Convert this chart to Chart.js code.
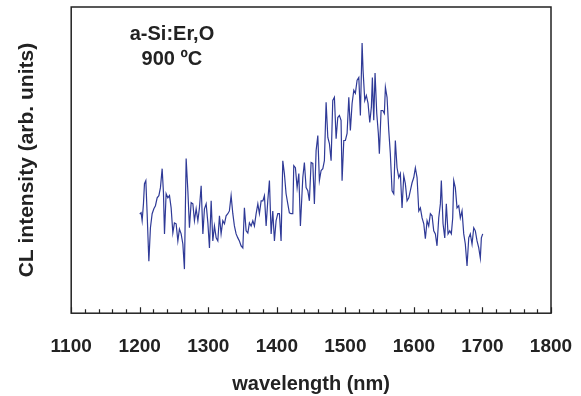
<!DOCTYPE html>
<html>
<head>
<meta charset="utf-8">
<script src="https://cdn.jsdelivr.net/npm/chart.js@4/dist/chart.umd.min.js"></script>
<style>
  html, body { margin: 0; padding: 0; background: #fff; }
  #wrap { width: 581px; height: 396px; }
</style>
</head>
<body>
<div id="wrap"><canvas id="myChart" width="581" height="396"></canvas></div>
<script>
// CL spectrum, wavelength in nm
const wavelength = [
  1200, 1202, 1203.5, 1205.4, 1206.9, 1208.9, 1210.8, 1213.3, 1215.6, 1218.1,
  1220.6, 1222.9, 1225.4, 1227.9, 1230.2, 1232.7, 1234.6, 1236.1, 1238.5, 1241,
  1243.4, 1245.8, 1248.3, 1250.6, 1253.1, 1255.6, 1257.9, 1260.4, 1262.9, 1265.2,
  1267.7, 1270.2, 1272.5, 1275, 1277.5, 1279.8, 1282.3, 1284.8, 1287.1, 1289.6,
  1292.1, 1294.4, 1296.9, 1299.4, 1301.7, 1304.2, 1306.6, 1309, 1311.5, 1313.9,
  1316.3, 1318.7, 1321.2, 1323.6, 1326, 1328.5, 1330.8, 1333.3, 1335.8, 1338.1,
  1340.6, 1343.1, 1345.4, 1347.9, 1350.4, 1352.7, 1355.2, 1357.7, 1360, 1362.5,
  1365, 1367.3, 1369.8, 1372.3, 1374.6, 1377.1, 1379.6, 1381.9, 1384.4, 1386.8,
  1389.2, 1391.7, 1394.1, 1396.5, 1398.9, 1401.4, 1403.8, 1406.2, 1408.7, 1411,
  1413.5, 1416, 1418.3, 1420.8, 1423.3, 1424.7, 1427.1, 1429.6, 1432.1, 1434.4,
  1437.9, 1440.2, 1442.7, 1445.2, 1447.5, 1450, 1452.5, 1454.8, 1457.3, 1459.8,
  1462.1, 1464.6, 1467.1, 1469.4, 1471.9, 1474.4, 1476.7, 1479.2, 1481.6, 1484,
  1486.5, 1488.9, 1491.3, 1493.7, 1495.2, 1497.7, 1500, 1502.5, 1505, 1507.3,
  1509.8, 1512.3, 1514.6, 1517.1, 1519.6, 1521.9, 1524.4, 1525.8, 1528.3, 1530.6,
  1533.1, 1535.6, 1537.9, 1539.4, 1541.4, 1543.3, 1545.8, 1548.1, 1549.6, 1552.1,
  1554.6, 1556.9, 1558.4, 1560.8, 1563.3, 1565.6, 1568.1, 1570.6, 1572.9, 1575.4,
  1577.9, 1580.2, 1582.7, 1585.2, 1587.5, 1590, 1592.5, 1594.8, 1597.3, 1599.8,
  1602.1, 1604.6, 1607.1, 1609.4, 1611.9, 1614.4, 1616.7, 1619.2, 1621.6, 1624,
  1626.5, 1628.9, 1631.3, 1633.7, 1636.2, 1638.6, 1640, 1642.5, 1645, 1647.3,
  1649.8, 1652.3, 1654.6, 1656.6, 1658.1, 1660.4, 1662.9, 1665.4, 1667.7, 1670.2,
  1672.7, 1675, 1677.5, 1680, 1682.3, 1684.8, 1687.3, 1689.6, 1692.1, 1694.6,
  1696.9, 1698.4, 1700.4
];
// intensity, arb. units
const intensity = [
  32.4, 32.8, 30.2, 35.7, 42.3, 43.3, 32.5, 17.0, 27.9, 32.5,
  34.1, 35.1, 37.7, 38.4, 41.0, 47.2, 39.3, 25.9, 39.0, 37.7,
  38.4, 34.4, 26.2, 29.5, 29.2, 23.6, 27.5, 25.9, 22.6, 14.4,
  50.5, 40.0, 27.9, 36.1, 35.7, 30.2, 34.1, 30.2, 34.4, 41.6,
  25.9, 34.1, 35.7, 29.5, 21.3, 36.7, 23.6, 28.5, 24.6, 23.6,
  31.8, 25.9, 30.2, 29.2, 31.8, 32.5, 33.4, 38.4, 32.5, 28.5,
  25.9, 24.6, 23.6, 22.0, 21.3, 34.4, 26.9, 26.2, 29.5, 28.5,
  30.2, 28.5, 32.5, 35.7, 32.5, 36.7, 36.7, 38.4, 28.5, 36.7,
  43.3, 25.9, 33.4, 23.6, 30.2, 32.5, 32.5, 23.6, 49.8, 45.6,
  39.0, 35.7, 32.8, 32.5, 32.5, 48.2, 47.5, 41.0, 45.6, 28.5,
  44.3, 49.2, 41.0, 40.0, 36.7, 49.2, 48.9, 35.7, 53.1, 58.0,
  43.3, 46.6, 47.2, 49.8, 68.9, 57.4, 55.4, 49.8, 69.5, 70.5,
  57.0, 63.9, 64.6, 63.0, 43.3, 56.4, 56.4, 58.7, 70.5, 59.7,
  68.5, 72.8, 71.8, 76.1, 77.0, 64.6, 88.2, 79.3, 69.5, 71.1,
  68.5, 62.3, 67.2, 77.0, 63.0, 78.4, 65.2, 58.7, 52.1, 66.2,
  66.2, 65.2, 73.8, 70.5, 59.7, 52.1, 40.0, 39.0, 56.4, 47.5,
  44.3, 45.6, 34.4, 44.9, 42.3, 36.7, 37.7, 40.0, 42.6, 44.3,
  47.5, 44.3, 33.4, 34.4, 31.1, 29.2, 24.3, 30.2, 28.5, 32.5,
  31.8, 26.9, 25.9, 22.0, 31.1, 35.7, 43.3, 29.2, 24.6, 35.7,
  25.9, 26.9, 25.9, 31.1, 43.3, 41.0, 34.4, 35.1, 31.1, 33.4,
  25.9, 22.6, 15.4, 24.6, 25.9, 22.6, 27.9, 26.9, 23.6, 21.3,
  18.0, 24.6, 25.9
];
const xTicks = [1100, 1200, 1300, 1400, 1500, 1600, 1700, 1800];
const sampleLabel = ['a-Si:Er,O', '900 ºC'];

const points = wavelength.map((w, i) => ({ x: w, y: intensity[i] }));

// box around the plot and the little inward ticks on the bottom edge
const framePlugin = {
  id: 'frame',
  afterDatasetsDraw(chart) {
    const { ctx, chartArea: a, scales } = chart;
    ctx.save();
    ctx.strokeStyle = '#222';
    ctx.lineWidth = 1.5;
    ctx.strokeRect(a.left, a.top, a.right - a.left, a.bottom - a.top);
    ctx.lineWidth = 1.2;
    ctx.beginPath();
    for (let v = 1100; v <= 1800; v += 20) {
      const px = Math.round(scales.x.getPixelForValue(v)) + 0.5;
      const len = (v % 100 === 0) ? 6 : 4;
      ctx.moveTo(px, a.bottom);
      ctx.lineTo(px, a.bottom - len);
    }
    ctx.stroke();

    // sample name + annealing temperature
    ctx.fillStyle = '#222';
    ctx.font = 'bold 20px "Liberation Sans", Arial, sans-serif';
    ctx.textAlign = 'center';
    ctx.textBaseline = 'middle';
    const cx = scales.x.getPixelForValue(1247);
    ctx.fillText(sampleLabel[0], cx, a.top + 27);
    ctx.fillText(sampleLabel[1], cx, a.top + 52);
    ctx.restore();
  }
};

const config = {
  type: 'line',
  data: {
    datasets: [{
      data: points,
      borderColor: '#2f3a97',
      borderWidth: 1.2,
      pointRadius: 0,
      tension: 0,
      fill: false
    }]
  },
  options: {
    responsive: false,
    animation: false,
    layout: { padding: { left: 15, right: 30, top: 7, bottom: 0 } },
    plugins: { legend: { display: false }, tooltip: { enabled: false } },
    scales: {
      x: {
        type: 'linear',
        min: 1100,
        max: 1800,
        afterBuildTicks(scale) { scale.ticks = xTicks.map(v => ({ value: v })); },
        afterFit(scale) { scale.paddingLeft = 0; scale.paddingRight = 0; },
        grid: { display: false, drawTicks: false },
        border: { display: false },
        ticks: {
          color: '#222',
          padding: 22,
          maxRotation: 0,
          callback: v => String(v),
          font: { family: '"Liberation Sans", Arial, sans-serif', size: 19, weight: 'bold' }
        },
        title: {
          display: true,
          text: 'wavelength (nm)',
          color: '#222',
          padding: { top: -8, bottom: 0 },
          font: { family: '"Liberation Sans", Arial, sans-serif', size: 20, weight: 'bold' }
        }
      },
      y: {
        min: 0,
        max: 100,
        grid: { display: false, drawTicks: false },
        border: { display: false },
        ticks: { display: false },
        title: {
          display: true,
          text: 'CL intensity (arb. units)',
          color: '#222',
          padding: { top: 0, bottom: 31 },
          font: { family: '"Liberation Sans", Arial, sans-serif', size: 21, weight: 'bold' }
        }
      }
    }
  },
  plugins: [framePlugin]
};

const myChart = new Chart(document.getElementById('myChart'), config);
</script>
</body>
</html>
